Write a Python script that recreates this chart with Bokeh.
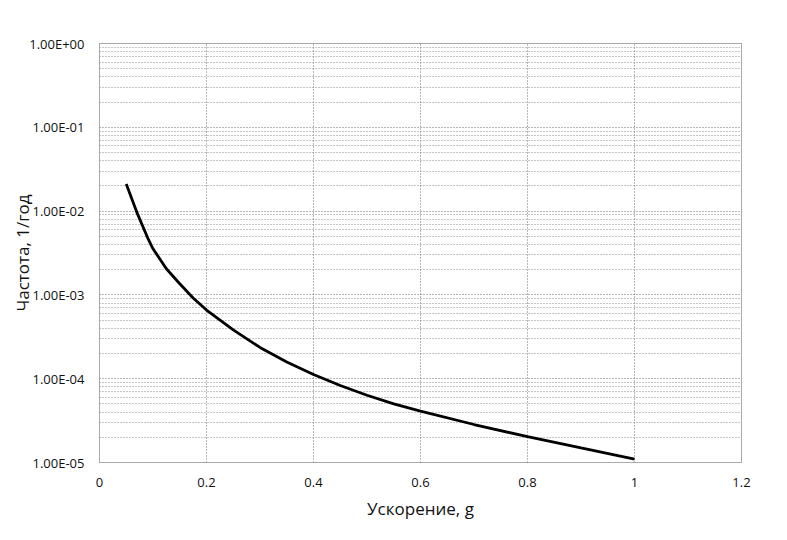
from bokeh.plotting import figure
from bokeh.models import FixedTicker, CustomJSTickFormatter, Range1d
from bokeh.embed import file_html
from bokeh.resources import INLINE

# Data
accel = [0.05, 0.07, 0.09, 0.1, 0.125, 0.15, 0.175, 0.2, 0.25, 0.3, 0.35, 0.4,
         0.45, 0.5, 0.55, 0.6, 0.7, 0.8, 0.9, 1.0]
freq = [2.1e-2, 9.6e-3, 4.8e-3, 3.55e-3, 2.05e-3, 1.36e-3, 9.2e-4, 6.6e-4,
        3.82e-4, 2.36e-4, 1.58e-4, 1.12e-4, 8.3e-5, 6.35e-5, 5.0e-5, 4.1e-5,
        2.84e-5, 2.03e-5, 1.49e-5, 1.1e-5]

x_ticks = [0, 0.2, 0.4, 0.6, 0.8, 1.0, 1.2]
x_labels = ["0", "0.2", "0.4", "0.6", "0.8", "1", "1.2"]
y_ticks = [1e-5, 1e-4, 1e-3, 1e-2, 1e-1, 1.0]
y_labels = ["1.00E-05", "1.00E-04", "1.00E-03", "1.00E-02", "1.00E-01", "1.00E+00"]
minor_mult = [2, 3, 4, 5, 6, 7, 8, 9]

x_title = "Ускорение, g"
y_title = "Частота, 1/год"

FONT = "Open Sans"
GRID = "#6e6e6e"

p = figure(width=771, height=524, y_axis_type="log",
           x_range=Range1d(0, 1.2), y_range=Range1d(1e-5, 1.0),
           output_backend="svg", toolbar_location=None,
           min_border_left=99, min_border_right=30,
           min_border_top=43, min_border_bottom=62)

minor_y = [m * t for t in y_ticks[:-1] for m in minor_mult]

p.xaxis.ticker = FixedTicker(ticks=x_ticks)
p.yaxis.ticker = FixedTicker(ticks=y_ticks, minor_ticks=minor_y)

p.xaxis.formatter = CustomJSTickFormatter(args=dict(tv=x_ticks, tl=x_labels), code="""
let bi = 0, bd = Infinity;
for (let i = 0; i < tv.length; i++) { const d = Math.abs(tv[i] - tick); if (d < bd) { bd = d; bi = i; } }
return tl[bi];
""")
p.yaxis.formatter = CustomJSTickFormatter(args=dict(tv=y_ticks, tl=y_labels), code="""
let bi = 0, bd = Infinity;
for (let i = 0; i < tv.length; i++) { const d = Math.abs(Math.log10(tv[i]) - Math.log10(tick)); if (d < bd) { bd = d; bi = i; } }
return tl[bi];
""")

for ax in (p.xaxis, p.yaxis):
    ax.axis_line_color = None
    ax.major_tick_line_color = None
    ax.minor_tick_line_color = None
    ax.major_tick_out = 0
    ax.major_tick_in = 0
    ax.minor_tick_out = 0
    ax.minor_tick_in = 0
    ax.major_label_text_font = FONT
    ax.major_label_text_font_size = "13px"
    ax.major_label_text_color = "#111111"
    ax.axis_label_text_font = FONT
    ax.axis_label_text_font_size = "17px"
    ax.axis_label_text_font_style = "normal"
    ax.axis_label_text_color = "#111111"

p.xaxis.axis_label = x_title
p.yaxis.axis_label = y_title
p.xaxis.major_label_standoff = 15
p.xaxis.axis_label_standoff = 7
p.yaxis.major_label_standoff = 15
p.yaxis.axis_label_standoff = -8

p.xgrid.grid_line_color = GRID
p.xgrid.grid_line_dash = "1 2"
p.ygrid.grid_line_color = GRID
p.ygrid.grid_line_dash = "1 2"
p.ygrid.minor_grid_line_color = "#8a8a8a"
p.ygrid.minor_grid_line_dash = "1 2"

p.outline_line_color = "#555555"
p.outline_line_dash = "1 1"
p.outline_line_width = 1
p.background_fill_color = "white"
p.border_fill_color = "white"

p.line(accel, freq, line_color="black", line_width=2.8)

open("out.html", "w").write(file_html(p, INLINE))
